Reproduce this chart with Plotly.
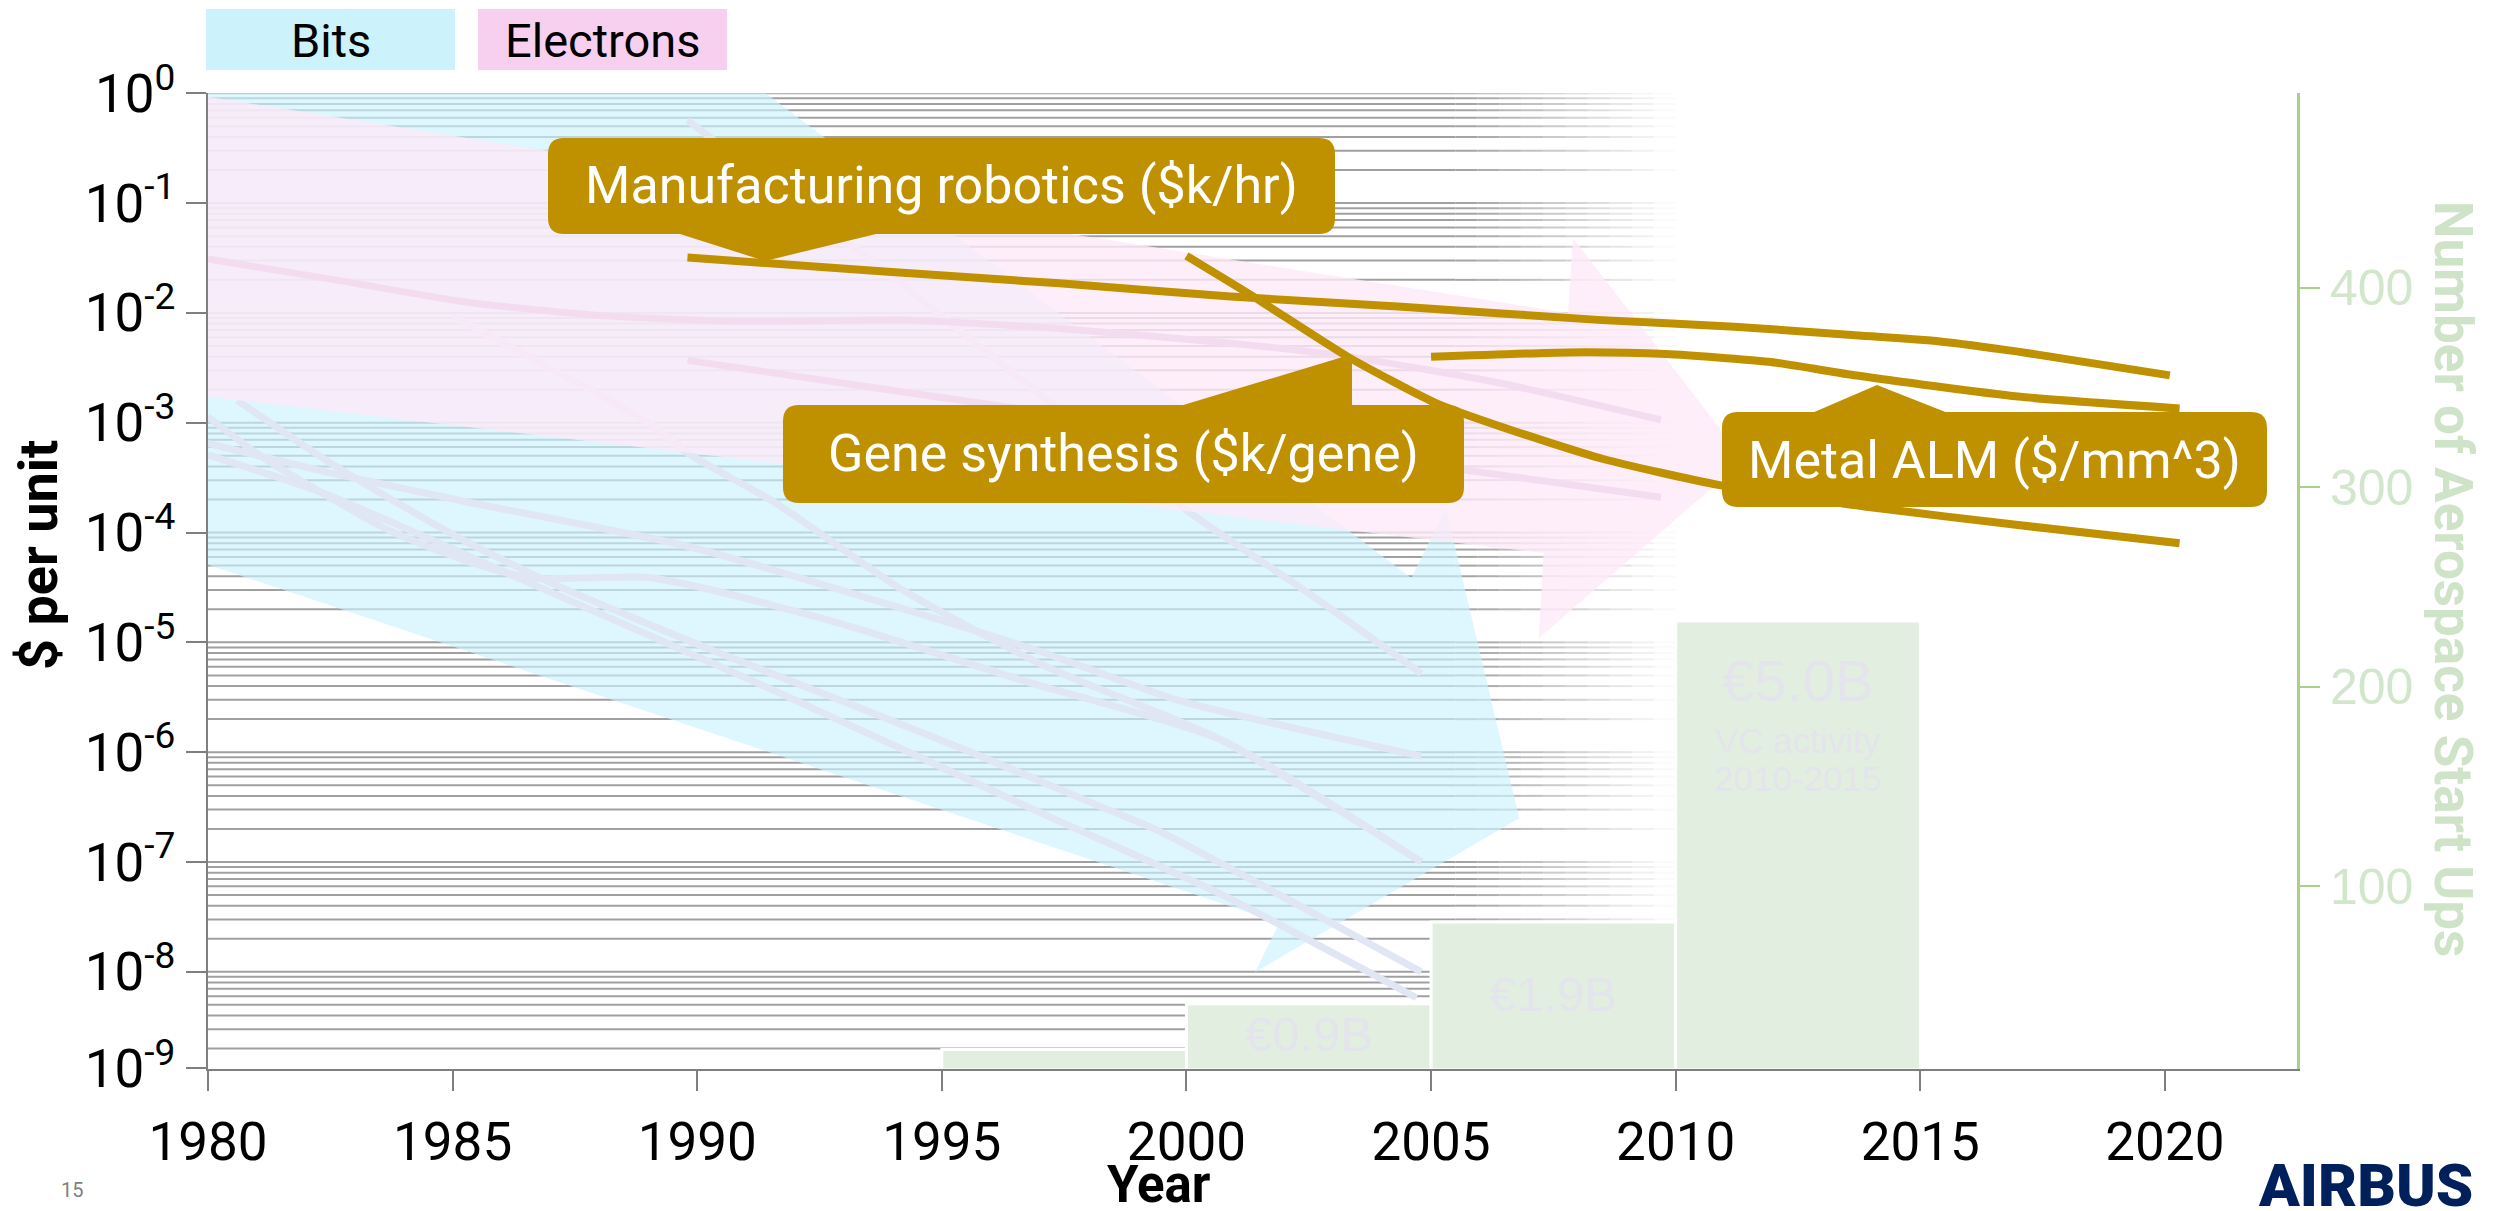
import numpy as np
import plotly.graph_objects as go

# ---------------- data ----------------
# Large trend arrows (polygon outlines, year / $ per unit)
bits_arrow_years = [1980.0, 1991.4, 2004.6, 2005.3, 2006.8, 2001.4, 2001.9, 1980.0]
bits_arrow_values = [1.0, 1.0, 3.85e-5, 1.67e-4, 2.5e-7, 9.9e-9, 2.8e-8, 5.1e-5]

electrons_arrow_years = [1980.0, 2007.8, 2007.9, 2011.4, 2007.2, 2007.3, 1980.0]
electrons_arrow_values = [0.93, 9.98e-3, 4.81e-2, 4.58e-4, 1.09e-5, 6.5e-5, 1.73e-3]

# Faint "bits" cost curves
bits_line1_years = [1989.8, 1994.2, 2000.0, 2002.4, 2004.8]
bits_line1_values = [0.57, 1.8e-2, 1.6e-4, 3.0e-5, 5.2e-6]
bits_line2_years = [1980.0, 1981.1, 1983.7, 1985.4, 1986.6, 1989.0, 1990.3, 1992.9, 1996.8, 2000.7, 2004.8]
bits_line2_values = [1.13e-3, 4.9e-4, 1.05e-4, 5.3e-5, 3.85e-5, 3.9e-5, 3.0e-5, 1.5e-5, 4.3e-6, 1.3e-6, 1.0e-7]
bits_line3_years = [1980.0, 1982.5, 1985.4, 1989.8, 1994.3, 1997.1, 1999.8, 2004.8]
bits_line3_values = [6.5e-4, 3.5e-4, 1.86e-4, 7.5e-5, 1.97e-5, 8.0e-6, 3.0e-6, 9.2e-7]
bits_line4_years = [1980.6, 1982.5, 1985.1, 1987.0, 1990.3, 1992.9, 1995.5, 1998.1, 1999.4, 2004.8]
bits_line4_values = [1.6e-3, 4.3e-4, 9.1e-5, 3.5e-5, 8.5e-6, 3.0e-6, 1.04e-6, 3.4e-7, 1.95e-7, 1.0e-8]
bits_line5_years = [1980.0, 1982.3, 1986.1, 1991.6, 1997.1, 2000.7, 2004.7]
bits_line5_values = [5.1e-4, 2.34e-4, 4.3e-5, 3.6e-6, 2.7e-7, 5.1e-8, 5.8e-9]
bits_line6_years = [1985.0, 1989.0, 1989.8, 1991.6, 1994.2, 1997.1, 2000.7, 2004.8]
bits_line6_values = [9.3e-3, 1.0e-3, 5.3e-4, 1.86e-4, 3.0e-5, 6.1e-6, 1.3e-6, 1.0e-7]

# Faint "electrons" cost curves
electrons_line1_years = [1980.0, 1982.6, 1985.3, 1988.1, 1990.8, 1994.2, 1997.4, 2000.9, 2003.3, 2006.4, 2009.7]
electrons_line1_values = [3.1e-2, 2.0e-2, 1.25e-2, 9.4e-3, 8.4e-3, 8.6e-3, 7.2e-3, 5.3e-3, 4.0e-3, 2.3e-3, 1.06e-3]
electrons_line2_years = [1989.8, 1993.9, 1999.9, 2005.7, 2009.7]
electrons_line2_values = [3.7e-3, 2.0e-3, 8.2e-4, 3.7e-4, 2.1e-4]

# Highlighted cost curves
robotics_years = [1989.8, 1993.9, 1997.4, 2000.9, 2004.4, 2008.5, 2011.2, 2013.6, 2015.4, 2017.0, 2020.1]
robotics_values = [0.0320, 0.0237, 0.0186, 0.0141, 0.0114, 0.0086, 0.0075, 0.0063, 0.0055, 0.00444, 0.0027]
gene_years = [2000.0, 2001.4, 2003.3, 2005.1, 2006.4, 2008.5, 2010.9, 2013.9, 2017.0, 2020.3]
gene_values = [0.0331, 0.0138, 0.00398, 0.00151, 9.3e-4, 4.7e-4, 2.7e-4, 1.72e-4, 1.17e-4, 8.0e-5]
metal_years = [2005.0, 2007.8, 2009.8, 2011.9, 2013.7, 2017.0, 2020.3]
metal_values = [0.00398, 0.00437, 0.00422, 0.00359, 0.00269, 0.00173, 0.00135]

# Aerospace start-ups (right axis) per 5-year period
period_mid_years = [1997.5, 2002.5, 2007.5, 2012.5]
period_width = 5
startups = [18, 41, 82, 233]

# Tick labels
x_ticks = [1980, 1985, 1990, 1995, 2000, 2005, 2010, 2015, 2020]
y_tickvals = [1, 1e-1, 1e-2, 1e-3, 1e-4, 1e-5, 1e-6, 1e-7, 1e-8, 1.32e-9]
y_ticktext = ["10<sup>0</sup>", "10<sup>-1</sup>", "10<sup>-2</sup>", "10<sup>-3</sup>", "10<sup>-4</sup>",
              "10<sup>-5</sup>", "10<sup>-6</sup>", "10<sup>-7</sup>", "10<sup>-8</sup>", "10<sup>-9</sup>"]
y2_ticks = [100, 200, 300, 400]

# ---------------- geometry helpers (layout only) ----------------
# The page body adds an 8 px margin, so the figure is made 8 px smaller and
# reference pixel positions are shifted by that offset.
OFF = 8
W, H = 2506 - OFF, 1211 - OFF
L_PX, R_PX = 208, 2297          # plot-area edges in reference pixels
T_PX, B_PX = 93.3, 1068.5


def px2x(X):
    return (X - L_PX) / (R_PX - L_PX)


def px2y(Y):
    return 1 - (Y - OFF) / H


def rrect_path(x0, y0, x1, y1, r):
    pts = [
        ("M", [(x0 + r, y0)]), ("L", [(x1 - r, y0)]), ("Q", [(x1, y0), (x1, y0 + r)]),
        ("L", [(x1, y1 - r)]), ("Q", [(x1, y1), (x1 - r, y1)]), ("L", [(x0 + r, y1)]),
        ("Q", [(x0, y1), (x0, y1 - r)]), ("L", [(x0, y0 + r)]), ("Q", [(x0, y0), (x0 + r, y0)]),
    ]
    s = ""
    for cmd, ps in pts:
        s += cmd + " " + " ".join(f"{px2x(a):.5f},{px2y(b):.5f}" for a, b in ps) + " "
    return s + "Z"


def poly_path(points):
    s = "M " + " L ".join(f"{px2x(a):.5f},{px2y(b):.5f}" for a, b in points)
    return s + " Z"


fig = go.Figure()

# ---------------- fading log gridlines ----------------
grid_vals = [d * 10.0 ** e for e in range(0, -10, -1) for d in range(1, 10)
             if 1.32e-9 <= d * 10.0 ** e <= 1.0]
fade_edges = np.linspace(2005.5, 2010.0, 11)
segments = [(1980.0, 2005.5, 1.0)] + [
    (fade_edges[i], fade_edges[i + 1], 1 - (i + 0.5) / 10) for i in range(10)]
for x0, x1, op in segments:
    xs, ys = [], []
    for v in grid_vals:
        xs += [x0, x1, None]
        ys += [v, v, None]
    fig.add_trace(go.Scatter(x=xs, y=ys, mode="lines",
                             line=dict(color=f"rgba(160,160,160,{op:.2f})", width=2),
                             hoverinfo="skip", showlegend=False))

# ---------------- bits arrow + lines ----------------
fig.add_trace(go.Scatter(x=bits_arrow_years, y=bits_arrow_values, mode="lines", fill="toself",
                         fillcolor="rgba(205,241,252,0.65)", line=dict(width=0, color="rgba(0,0,0,0)"),
                         hoverinfo="skip", showlegend=False))
for xs, ys in [(bits_line1_years, bits_line1_values), (bits_line2_years, bits_line2_values),
               (bits_line3_years, bits_line3_values), (bits_line4_years, bits_line4_values),
               (bits_line5_years, bits_line5_values), (bits_line6_years, bits_line6_values)]:
    fig.add_trace(go.Scatter(x=xs, y=ys, mode="lines",
                             line=dict(color="#e0e6f3", width=7, shape="spline", smoothing=0.6),
                             hoverinfo="skip", showlegend=False))

# ---------------- electrons arrow + lines ----------------
fig.add_trace(go.Scatter(x=electrons_arrow_years, y=electrons_arrow_values, mode="lines", fill="toself",
                         fillcolor="rgba(252,234,247,0.8)", line=dict(width=0, color="rgba(0,0,0,0)"),
                         hoverinfo="skip", showlegend=False))
for xs, ys in [(electrons_line1_years, electrons_line1_values),
               (electrons_line2_years, electrons_line2_values)]:
    fig.add_trace(go.Scatter(x=xs, y=ys, mode="lines",
                             line=dict(color="#f4dcf0", width=7, shape="spline", smoothing=0.6),
                             hoverinfo="skip", showlegend=False))

# ---------------- highlighted gold lines ----------------
for xs, ys in [(robotics_years, robotics_values), (gene_years, gene_values), (metal_years, metal_values)]:
    fig.add_trace(go.Scatter(x=xs, y=ys, mode="lines",
                             line=dict(color="#bf9000", width=8, shape="spline", smoothing=0.6),
                             hoverinfo="skip", showlegend=False))

# ---------------- start-up bars (right axis) ----------------
fig.add_trace(go.Bar(x=period_mid_years, y=startups, width=period_width, yaxis="y2",
                     marker=dict(color="#e2efe0", line=dict(color="white", width=3)),
                     hoverinfo="skip", showlegend=False))

# ---------------- shapes ----------------
GOLD = "#bf9000"
shapes = []
# legend boxes
shapes.append(dict(type="rect", xref="paper", yref="paper", x0=px2x(206), x1=px2x(455),
                   y0=px2y(70), y1=px2y(9), fillcolor="#ccf2fc", line=dict(width=0), layer="above"))
shapes.append(dict(type="rect", xref="paper", yref="paper", x0=px2x(478), x1=px2x(727),
                   y0=px2y(70), y1=px2y(9), fillcolor="#f7d0f0", line=dict(width=0), layer="above"))
# callouts
callouts = [
    ((548, 138, 1335, 234), [(680, 234), (765, 261), (876, 234)]),
    ((783, 405, 1464, 503), [(1180, 406), (1346, 356), (1352, 362), (1352, 406)]),
    ((1722, 412, 2267, 507), [(1812, 413), (1877, 385), (1948, 413)]),
]
for (bx0, by0, bx1, by1), tri in callouts:
    shapes.append(dict(type="path", xref="paper", yref="paper", path=rrect_path(bx0, by0, bx1, by1, 16),
                       fillcolor=GOLD, line=dict(width=0), layer="above"))
    shapes.append(dict(type="path", xref="paper", yref="paper", path=poly_path(tri),
                       fillcolor=GOLD, line=dict(width=0), layer="above"))

# ---------------- annotations ----------------
ann = []
ann.append(dict(text="Bits", x=px2x(330.5), y=px2y(40), xref="paper", yref="paper", showarrow=False,
                font=dict(family="Roboto", size=47, color="black"), xanchor="center", yanchor="middle"))
ann.append(dict(text="Electrons", x=px2x(602.5), y=px2y(40), xref="paper", yref="paper", showarrow=False,
                font=dict(family="Roboto", size=47, color="black"), xanchor="center", yanchor="middle"))
for txt, cx, cy in [("Manufacturing robotics ($k/hr)", 941, 186),
                    ("Gene synthesis ($k/gene)", 1123, 454),
                    ("Metal ALM ($/mm^3)", 1994, 460)]:
    ann.append(dict(text=txt, x=px2x(cx), y=px2y(cy), xref="paper", yref="paper", showarrow=False,
                    font=dict(family="Roboto", size=52, color="white"), xanchor="center", yanchor="middle"))
# bar labels (faint)
FAINT = "rgba(228,228,236,1)"
for txt, bx, by, sz in [("€0.9B", 2002.5, 26, 49), ("€1.9B", 2007.5, 46, 49), ("€5.0B", 2012.5, 203, 58),
                        ("VC activity", 2012.5, 173, 35), ("2010-2015", 2012.5, 154, 35)]:
    ann.append(dict(text=txt, x=bx, y=by, xref="x", yref="y2", showarrow=False,
                    font=dict(family="Liberation Sans", size=sz, color=FAINT),
                    xanchor="center", yanchor="middle"))
# axis titles
ann.append(dict(text="<b>$ per unit</b>", x=px2x(38), y=px2y(555), xref="paper", yref="paper",
                showarrow=False, textangle=-90, font=dict(family="Roboto", size=54, color="black"),
                xanchor="center", yanchor="middle"))
ann.append(dict(text="<b>Year</b>", x=px2x(1159), y=px2y(1184), xref="paper", yref="paper",
                showarrow=False, font=dict(family="Roboto", size=51, color="black"),
                xanchor="center", yanchor="middle"))
ann.append(dict(text="<b>Number of Aerospace Start Ups</b>", x=px2x(2453), y=px2y(579), xref="paper",
                yref="paper", showarrow=False, textangle=90,
                font=dict(family="Roboto", size=53, color="#cfe3c9"), xanchor="center", yanchor="middle"))
# footer
ann.append(dict(text="15", x=px2x(72), y=px2y(1190), xref="paper", yref="paper", showarrow=False,
                font=dict(family="Roboto", size=20, color="#7f7f7f"), xanchor="center", yanchor="middle"))
ann.append(dict(text="AIRBUS", x=px2x(2365), y=px2y(1185), xref="paper", yref="paper", showarrow=False,
                font=dict(family="Roboto", size=60, color="#00205b", weight=900),
                xanchor="center", yanchor="middle"))

GRAY = "#7f7f7f"
GREEN_AX = "#a9d18e"
fig.update_layout(
    template="none",
    width=W, height=H, autosize=False,
    margin=dict(l=L_PX - OFF, r=W - (R_PX - OFF), t=0, b=0, pad=0, autoexpand=False),
    paper_bgcolor="white", plot_bgcolor="rgba(0,0,0,0)",
    hovermode=False,
    font=dict(family="Roboto", color="black"),
    xaxis=dict(range=[1980, 2022.70], domain=[0, 1], tickvals=x_ticks, showgrid=False, zeroline=False,
               automargin=False, ticklabelstandoff=6,
               showline=True, linecolor=GRAY, linewidth=2, ticks="outside", ticklen=20, tickwidth=2,
               tickcolor=GRAY, tickfont=dict(family="Roboto", size=53, color="black")),
    yaxis=dict(type="log", range=[-8.8805, 0], domain=[px2y(B_PX), px2y(T_PX)], tickvals=y_tickvals,
               ticktext=y_ticktext, showgrid=False, zeroline=False, showline=True, linecolor=GRAY,
               automargin=False,
               linewidth=2, ticks="outside", ticklen=20, tickwidth=2, tickcolor=GRAY,
               tickfont=dict(family="Roboto", size=53, color="black")),
    yaxis2=dict(overlaying="y", side="right", anchor="x", range=[8.5, 497.6], tickvals=y2_ticks,
                automargin=False,
                showgrid=False, zeroline=False, showline=True, linecolor=GREEN_AX, linewidth=3,
                ticks="outside", ticklen=20, tickwidth=2, tickcolor=GREEN_AX,
                tickfont=dict(family="Liberation Sans", size=50, color="#d2e6cc")),
    shapes=shapes,
    annotations=ann,
    showlegend=False,
)

fig.write_html("out.html")
